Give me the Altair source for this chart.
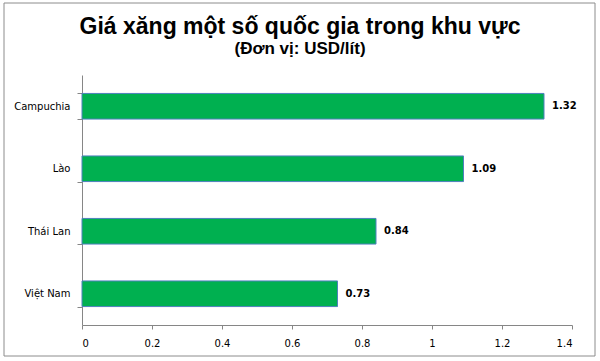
import altair as alt
import pandas as pd

countries = ["Campuchia", "Lào", "Thái Lan", "Việt Nam"]
prices = [1.32, 1.09, 0.84, 0.73]
x_ticks = [0, 0.2, 0.4, 0.6, 0.8, 1.0, 1.2, 1.4]
title_text = "Giá xăng một số quốc gia trong khu vực"
subtitle_text = "(Đơn vị: USD/lít)"

df = pd.DataFrame({"country": countries, "price": prices})

y_enc = alt.Y(
    "country:N",
    sort=countries,
    title=None,
    scale=alt.Scale(paddingInner=0.59, paddingOuter=0.295),
    axis=alt.Axis(
        domainColor="#868686",
        tickColor="#868686",
        tickBand="extent",
        tickSize=5,
        labelFont="DejaVu Sans",
        labelFontSize=10,
        labelColor="#000000",
        labelPadding=7,
    ),
)
x_enc = alt.X(
    "price:Q",
    title=None,
    scale=alt.Scale(domain=[0, 1.4], nice=False),
    axis=alt.Axis(
        values=x_ticks,
        format=".1~f",
        domainColor="#868686",
        tickColor="#868686",
        tickSize=4,
        grid=False,
        labelFont="DejaVu Sans",
        labelFontSize=10,
        labelColor="#000000",
        labelPadding=9,
    ),
)

base = alt.Chart(df)

bars = base.mark_bar(color="#00B050", stroke="#4F81BD", strokeWidth=1).encode(
    x=x_enc, y=y_enc
)

labels = base.mark_text(
    align="left",
    baseline="middle",
    dx=8,
    font="DejaVu Sans",
    fontSize=10,
    fontWeight="bold",
    color="#000000",
).encode(x="price:Q", y=alt.Y("country:N", sort=countries), text=alt.Text("price:Q", format=".2f"))

one = pd.DataFrame({"a": [0]})

border = alt.Chart(one).mark_rect(
    fill=None, stroke="#8C8C8C", strokeWidth=1
).encode(
    x=alt.value(-78), x2=alt.value(513), y=alt.value(-72), y2=alt.value(281)
)

title_mark = alt.Chart(pd.DataFrame({"t": [title_text]})).mark_text(
    align="center", baseline="alphabetic", font="Liberation Sans",
    fontSize=23, fontWeight="bold", color="#000000",
).encode(text="t:N", x=alt.value(218), y=alt.value(-41))

subtitle_mark = alt.Chart(pd.DataFrame({"t": [subtitle_text]})).mark_text(
    align="center", baseline="alphabetic", font="Liberation Sans",
    fontSize=17, fontWeight="bold", color="#000000",
).encode(text="t:N", x=alt.value(218), y=alt.value(-21))

chart = (
    alt.layer(bars, labels, border, title_mark, subtitle_mark)
    .properties(
        width=490,
        height=250,
        autosize=alt.AutoSizeParams(type="none"),
        padding={"left": 82, "top": 75, "right": 28, "bottom": 36},
        background="#FFFFFF",
    )
    .configure_view(stroke=None)
)

chart.save("out.html", embed_options={"renderer": "svg", "actions": False})
